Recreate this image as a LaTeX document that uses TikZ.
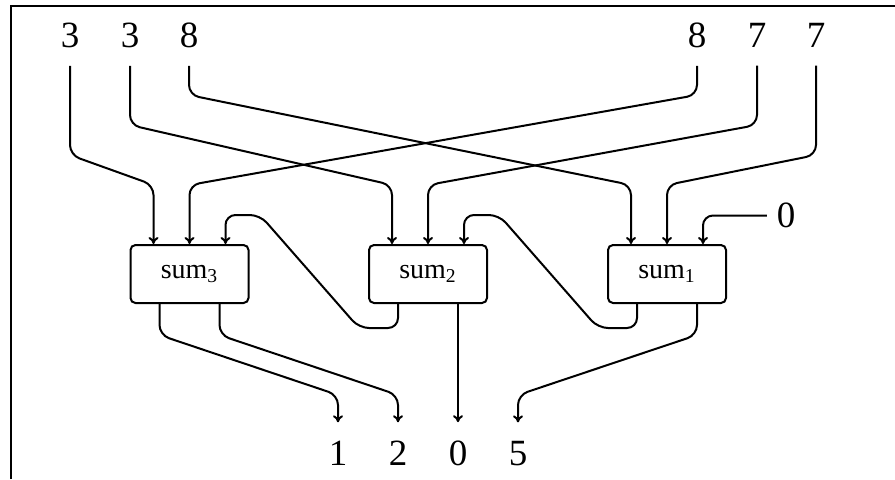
\documentclass[tikz,border=0pt]{standalone}
\usepackage{fontspec}
\setmainfont{Liberation Serif}
\usetikzlibrary{arrows.meta}
\begin{document}
\begin{tikzpicture}[x=0.5pt,y=-0.5pt,
  line width=1pt,
  num/.style={font=\fontsize{18.5pt}{20pt}\selectfont, inner xsep=0pt, inner ysep=8.5pt, text depth=0pt},
  bnum/.style={num, inner ysep=9pt},
  znum/.style={num, inner xsep=4.5pt, inner ysep=0pt},
  sumbox/.style={draw, rounded corners=2.5pt, minimum width=59pt, minimum height=29pt, inner sep=0pt, font=\fontsize{14pt}{16pt}\selectfont},
  wire/.style={rounded corners=5pt, -{To[length=3.5pt,width=5pt]}},
  ]
\useasboundingbox (0,0) rectangle (895,479);
\draw (11,479) -- (11,6) -- (895,6);
% top numbers
\node[num] (t1) at (70,35.5) {3};
\node[num] (t2) at (130,35.5) {3};
\node[num] (t3) at (189,35.5) {8};
\node[num] (t4) at (697,35.5) {8};
\node[num] (t5) at (757,35.5) {7};
\node[num] (t6) at (816,35.5) {7};
\node[znum] (z) at (786,215.5) {0};
% boxes
\node[sumbox] (s3) at (189.5,274) {sum\textsubscript{3}};
\node[sumbox] (s2) at (428,274) {sum\textsubscript{2}};
\node[sumbox] (s1) at (667,274) {sum\textsubscript{1}};
\foreach \s in {s1,s2,s3}{
  \coordinate (\s i1) at ([xshift=-18pt]\s.north);
  \coordinate (\s i2) at (\s.north);
  \coordinate (\s i3) at ([xshift=18pt]\s.north);
  \coordinate (\s o1) at ([xshift=-15pt]\s.south);
  \coordinate (\s o2) at ([xshift=15pt]\s.south);
}
% bottom numbers
\node[bnum] (b1) at (338,453.5) {1};
\node[bnum] (b2) at (398,453.5) {2};
\node[bnum] (b3) at (458,453.5) {0};
\node[bnum] (b4) at (518,453.5) {5};
% inputs
\draw[wire] (t1.south) -- (t1.south |- 0,155) -- (s3i1 |- 0,185) -- (s3i1);
\draw[wire] (t2.south) -- (t2.south |- 0,125) -- (s2i1 |- 0,185) -- (s2i1);
\draw[wire] (t3.south) -- (t3.south |- 0,95) -- (s1i1 |- 0,185) -- (s1i1);
\draw[wire] (t4.south) -- (t4.south |- 0,95) -- (s3i2 |- 0,185) -- (s3i2);
\draw[wire] (t5.south) -- (t5.south |- 0,125) -- (s2i2 |- 0,185) -- (s2i2);
\draw[wire] (t6.south) -- (t6.south |- 0,155) -- (s1i2 |- 0,185) -- (s1i2);
\draw[wire] (z.west) -- (s1i3 |- z.west) -- (s1i3);
% feedback
\draw[wire] (s2o1) -- (s2o1 |- 0,328) -- (359,328) -- (260,215) -- (s3i3 |- 0,215) -- (s3i3);
\draw[wire] (s1o1) -- (s1o1 |- 0,328) -- (598,328) -- (499,215) -- (s2i3 |- 0,215) -- (s2i3);
% outputs
\draw[wire] (s3o1) -- (s3o1 |- 0,335) -- (b1.north |- 0,395) -- (b1.north);
\draw[wire] (s3o2) -- (s3o2 |- 0,335) -- (b2.north |- 0,395) -- (b2.north);
\draw[wire] (s2o2) -- (b3.north);
\draw[wire] (s1o2) -- (s1o2 |- 0,335) -- (b4.north |- 0,395) -- (b4.north);
\end{tikzpicture}
\end{document}
